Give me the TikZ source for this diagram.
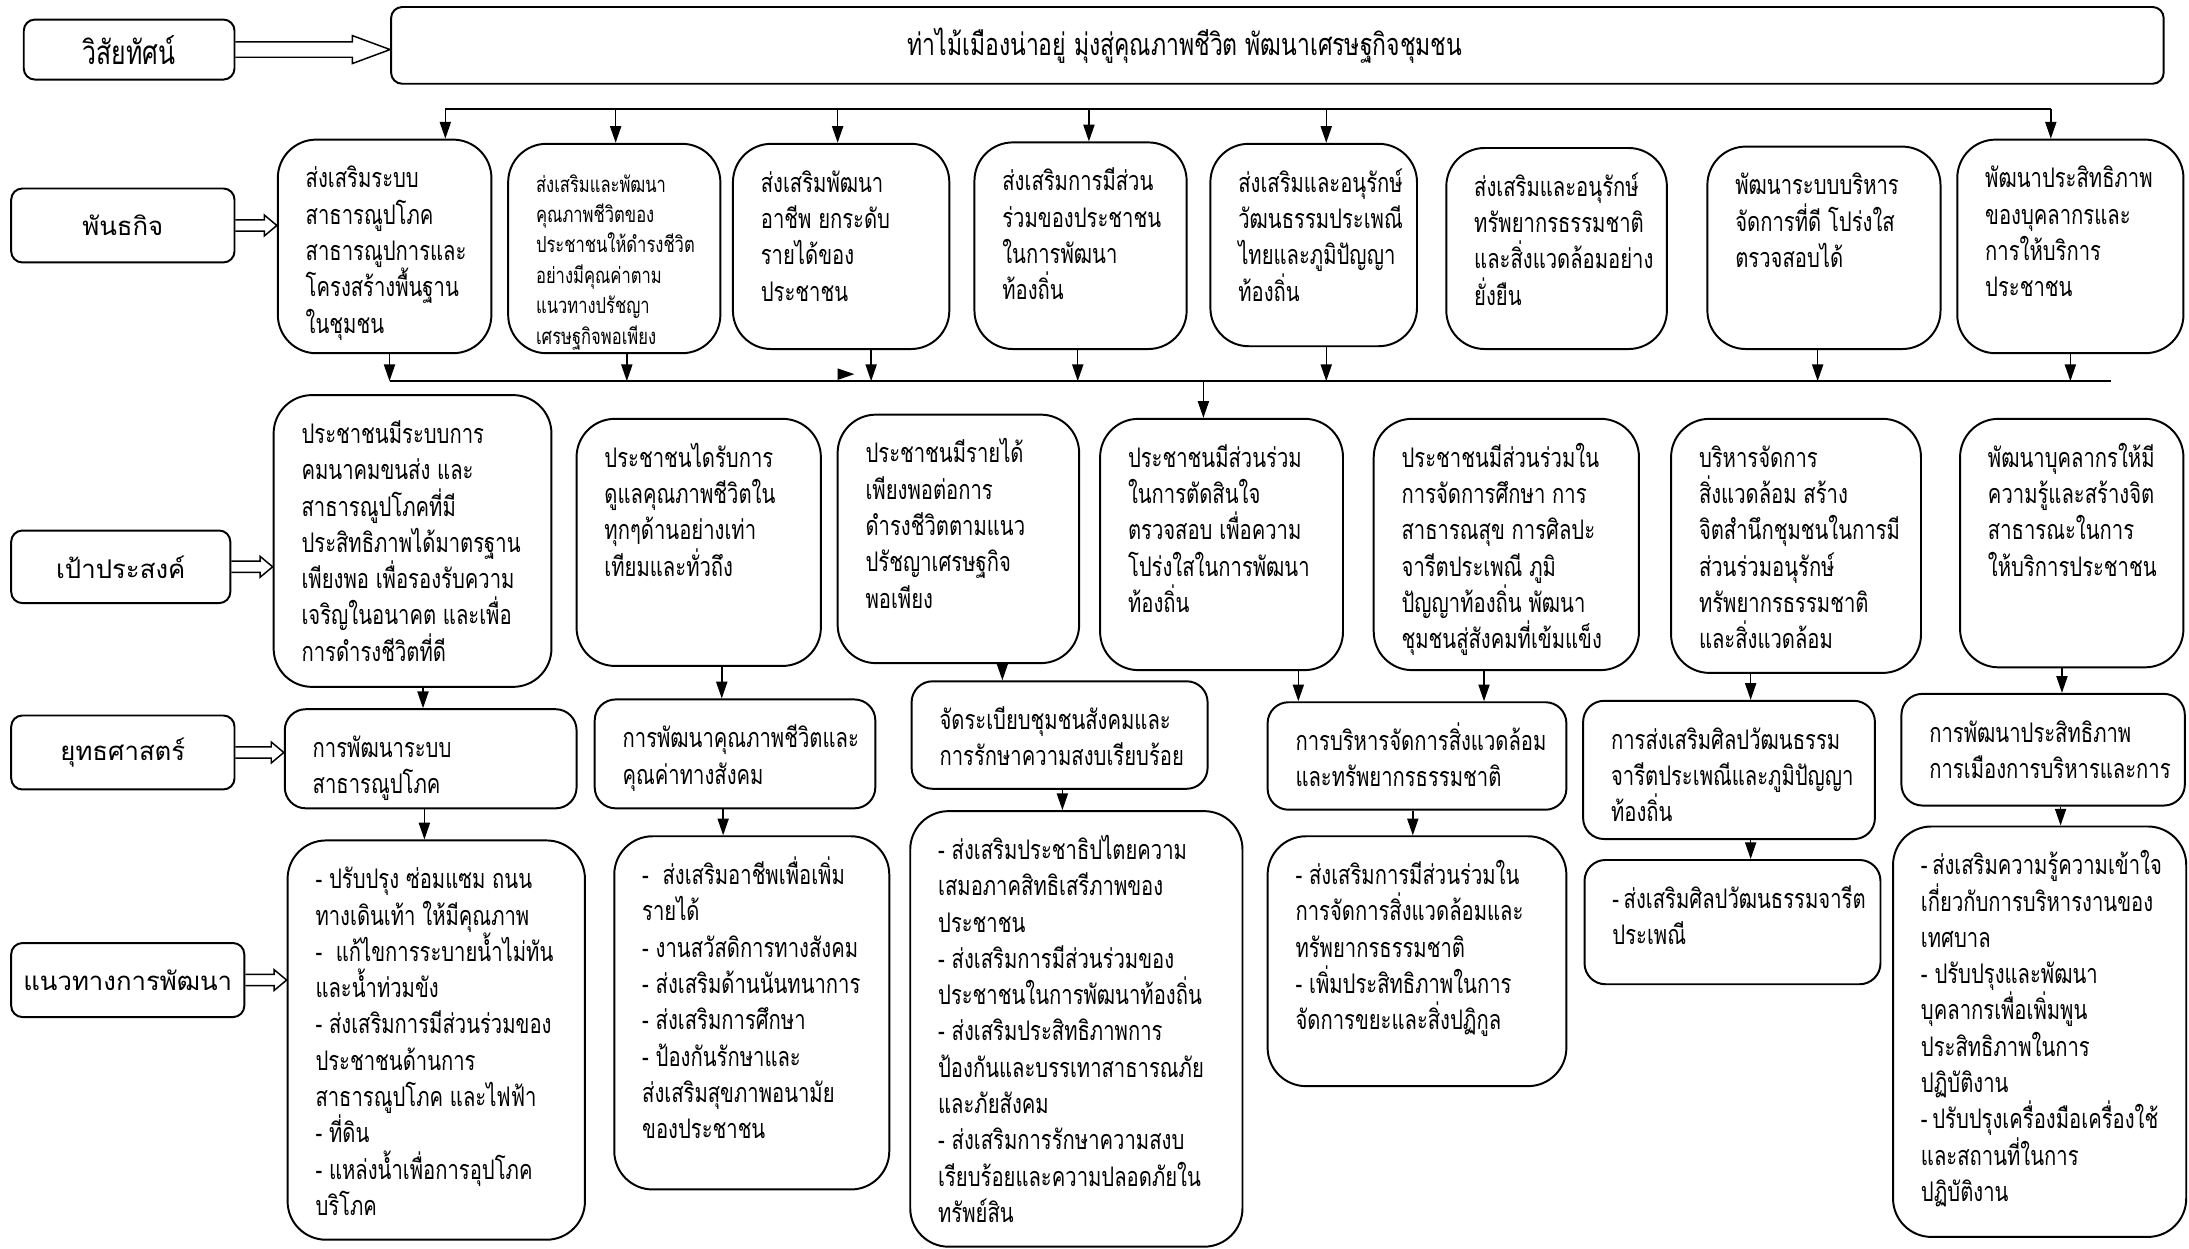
\documentclass[tikz,border=0pt]{standalone}
\usepackage{fontspec}
\newfontfamily\thaifont[Script=Thai]{Loma}
\newfontfamily\thainarrow[Script=Thai,FakeStretch=0.75]{Loma}
\usepackage{tikz}
\usetikzlibrary{arrows.meta,calc}

\newlength{\bu}\setlength{\bu}{0.02cm}
% text block of a box: width, height (in picture units), lines
\newcommand{\tb}[3]{\parbox[c][\dimexpr #2\bu-0.4cm\relax][t]{\dimexpr #1\bu-0.8cm\relax}{\raggedright\exhyphenpenalty=10000 \hyphenpenalty=10000 \rule{0pt}{14pt}#3}}
% hollow double arrow: from, to, shaft half, head half, head length
\newcommand{\dblarrow}[5]{%
  \draw[dbl] ($(#1.east)+(0,-#3)$) -- ($(#2.west |- #1.east)+(-#5,-#3)$)
    -- ($(#2.west |- #1.east)+(-#5,-#4)$) -- (#2.west |- #1.east)
    -- ($(#2.west |- #1.east)+(-#5,#4)$) -- ($(#2.west |- #1.east)+(-#5,#3)$)
    -- ($(#1.east)+(0,#3)$);}

\begin{document}
\begin{tikzpicture}[x=0.02cm, y=-0.02cm]
  % Define styles
  \tikzstyle{side} = [rectangle, draw, thick, rounded corners=0.16cm, font=\thaifont\fontsize{10.5}{13}\selectfont]
  \tikzstyle{tall} = [rectangle, draw, thick, rounded corners=0.55cm, inner xsep=0.4cm, inner ysep=0.2cm, font=\thainarrow\fontsize{11}{14.8}\selectfont]
  \tikzstyle{flat} = [tall, rounded corners=0.3cm]
  \tikzstyle{arr} = [line width=0.6pt, -{Triangle[length=0.24cm, width=0.16cm]}]
  \tikzstyle{bus} = [line width=1.1pt]
  \tikzstyle{dbl} = [line width=0.6pt, line join=miter]

  \useasboundingbox (0,0) rectangle (1568,894);

  % Row labels
  \node [side, minimum width=3.02cm, minimum height=0.86cm, font=\thainarrow\fontsize{13.5}{16}\selectfont] (lv) at (92.5,35.5) {วิสัยทัศน์};
  \node [side, minimum width=3.2cm, minimum height=1.06cm] (lm) at (88,161.5) {พันธกิจ};
  \node [side, minimum width=3.14cm, minimum height=1.04cm] (lg) at (86.5,406) {เป้าประสงค์};
  \node [side, minimum width=3.2cm, minimum height=1.06cm] (ls) at (88,539) {ยุทธศาสตร์};
  \node [side, minimum width=3.34cm, minimum height=1.06cm] (ld) at (91.5,702) {แนวทางการพัฒนา};

  % Vision
  \node [side, minimum width=25.4cm, minimum height=1.1cm, font=\thainarrow\fontsize{12.5}{16}\selectfont] (vision) at (915,32.5)
    {\makebox[24.6cm][l]{\hspace*{7.0cm}ท่าไม้เมืองน่าอยู่ มุ่งสู่คุณภาพชีวิต พัฒนาเศรษฐกิจชุมชน}};

  % Missions
  \node [tall] (m1) at (275.5,176.5) {\tb{153}{153}{ส่งเสริมระบบ\\สาธารณูปโภค\\สาธารณูปการและ\\โครงสร้างพื้นฐาน\\ในชุมชน}};
  \node [tall, font=\thainarrow\fontsize{9}{12.4}\selectfont] (m2) at (440,178) {\tb{152}{150}{ส่งเสริมและพัฒนา\\คุณภาพชีวิตของ\\ประชาชนให้ดำรงชีวิต\\อย่างมีคุณค่าตาม\\แนวทางปรัชญา\\เศรษฐกิจพอเพียง}};
  \node [tall] (m3) at (602.5,176.5) {\tb{155}{147}{ส่งเสริมพัฒนา\\อาชีพ~ยกระดับ\\รายได้ของ\\ประชาชน}};
  \node [tall] (m4) at (774,176) {\tb{152}{148}{ส่งเสริมการมีส่วน\\ร่วมของประชาชน\\ในการพัฒนา\\ท้องถิ่น}};
  \node [tall] (m5) at (941,175.5) {\tb{148}{145}{ส่งเสริมและอนุรักษ์\\วัฒนธรรมประเพณี\\ไทยและภูมิปัญญา\\ท้องถิ่น}};
  \node [tall] (m6) at (1115,178) {\tb{158}{144}{ส่งเสริมและอนุรักษ์\\ทรัพยากรธรรมชาติ\\และสิ่งแวดล้อมอย่าง\\ยั่งยืน}};
  \node [tall] (m7) at (1306.5,177.5) {\tb{167}{145}{พัฒนาระบบบริหาร\\จัดการที่ดี~โปร่งใส\\ตรวจสอบได้}};
  \node [tall] (m8) at (1483,176.5) {\tb{162}{153}{พัฒนาประสิทธิภาพ\\ของบุคลากรและ\\การให้บริการ\\ประชาชน}};

  % Goals
  \node [tall] (g1) at (295.5,387.5) {\tb{199}{209}{ประชาชนมีระบบการ\\คมนาคมขนส่ง~และ\\สาธารณูปโภคที่มี\\ประสิทธิภาพได้มาตรฐาน\\เพียงพอ~เพื่อรองรับความ\\เจริญในอนาคต~และเพื่อ\\การดำรงชีวิตที่ดี}};
  \node [tall] (g2) at (500.5,388.5) {\tb{175}{177}{ประชาชนไดรับการ\\ดูแลคุณภาพชีวิตใน\\ทุกๆด้านอย่างเท่า\\เทียมและทั่วถึง}};
  \node [tall] (g3) at (686.5,386) {\tb{173}{178}{ประชาชนมีรายได้\\เพียงพอต่อการ\\ดำรงชีวิตตามแนว\\ปรัชญาเศรษฐกิจ\\พอเพียง}};
  \node [tall] (g4) at (875,390) {\tb{174}{180}{ประชาชนมีส่วนร่วม\\ในการตัดสินใจ\\ตรวจสอบ~เพื่อความ\\โปร่งใสในการพัฒนา\\ท้องถิ่น}};
  \node [tall] (g5) at (1079,390) {\tb{190}{180}{ประชาชนมีส่วนร่วมใน\\การจัดการศึกษา~การ\\สาธารณสุข~การศิลปะ\\จารีตประเพณี~ภูมิ\\ปัญญาท้องถิ่น~พัฒนา\\ชุมชนสู่สังคมที่เข้มแข็ง}};
  \node [tall] (g6) at (1286.5,391) {\tb{179}{182}{บริหารจัดการ\\สิ่งแวดล้อม~สร้าง\\จิตสำนึกชุมชนในการมี\\ส่วนร่วมอนุรักษ์\\ทรัพยากรธรรมชาติ\\และสิ่งแวดล้อม}};
  \node [tall] (g7) at (1484,389) {\tb{160}{178}{พัฒนาบุคลากรให้มี\\ความรู้และสร้างจิต\\สาธารณะในการ\\ให้บริการประชาชน}};

  % Strategies
  \node [flat] (s1) at (308.5,543.5) {\tb{209}{71}{การพัฒนาระบบ\\สาธารณูปโภค}};
  \node [flat] (s2) at (526.5,540) {\tb{201}{78}{การพัฒนาคุณภาพชีวิตและ\\คุณค่าทางสังคม}};
  \node [flat] (s3) at (759,526.5) {\tb{212}{77}{จัดระเบียบชุมชนสังคมและ\\การรักษาความสงบเรียบร้อย}};
  \node [flat] (s4) at (1015,541.5) {\tb{214}{77}{การบริหารจัดการสิ่งแวดล้อม\\และทรัพยากรธรรมชาติ}};
  \node [flat] (s5) at (1238.5,551.5) {\tb{209}{99}{การส่งเสริมศิลปวัฒนธรรม\\จารีตประเพณีและภูมิปัญญา\\ท้องถิ่น}};
  \node [flat] (s6) at (1463.5,537) {\tb{203}{80}{การพัฒนาประสิทธิภาพ\\การเมืองการบริหารและการ}};

  % Development guidelines
  \node [tall] (d1) at (312.5,745) {\tb{213}{286}{-~ปรับปรุง~ซ่อมแซม~ถนน\\ทางเดินเท้า~ให้มีคุณภาพ\\-~~แก้ไขการระบายน้ำไม่ทัน\\และน้ำท่วมขัง\\-~ส่งเสริมการมีส่วนร่วมของ\\ประชาชนด้านการ\\สาธารณูปโภค~และไฟฟ้า\\-~ที่ดิน\\-~แหล่งน้ำเพื่อการอุปโภค\\บริโภค}};
  \node [tall] (d2) at (538.5,725.5) {\tb{197}{253}{-~~ส่งเสริมอาชีพเพื่อเพิ่ม\\รายได้\\-~งานสวัสดิการทางสังคม\\-~ส่งเสริมด้านนันทนาการ\\-~ส่งเสริมการศึกษา\\-~ป้องกันรักษาและ\\ส่งเสริมสุขภาพอนามัย\\ของประชาชน}};
  \node [tall] (d3) at (771,737) {\tb{238}{312}{-~ส่งเสริมประชาธิปไตยความ\\เสมอภาคสิทธิเสรีภาพของ\\ประชาชน\\-~ส่งเสริมการมีส่วนร่วมของ\\ประชาชนในการพัฒนาท้องถิ่น\\-~ส่งเสริมประสิทธิภาพการ\\ป้องกันและบรรเทาสาธารณภัย\\และภัยสังคม\\-~ส่งเสริมการรักษาความสงบ\\เรียบร้อยและความปลอดภัยใน\\ทรัพย์สิน}};
  \node [tall] (d4) at (1015,688.5) {\tb{214}{179}{-~ส่งเสริมการมีส่วนร่วมใน\\การจัดการสิ่งแวดล้อมและ\\ทรัพยากรธรรมชาติ\\-~เพิ่มประสิทธิภาพในการ\\จัดการขยะและสิ่งปฏิกูล}};
  \node [flat] (d5) at (1241,660.5) {\tb{212}{89}{-~ส่งเสริมศิลปวัฒนธรรมจารีต\\ประเพณี}};
  \node [tall] (d6) at (1461,739) {\tb{210}{294}{-~ส่งเสริมความรู้ความเข้าใจ\\เกี่ยวกับการบริหารงานของ\\เทศบาล\\-~ปรับปรุงและพัฒนา\\บุคลากรเพื่อเพิ่มพูน\\ประสิทธิภาพในการ\\ปฏิบัติงาน\\-~ปรับปรุงเครื่องมือเครื่องใช้\\และสถานที่ในการ\\ปฏิบัติงาน}};

  % Hollow arrows from the labels
  \dblarrow{lv}{vision}{5.5}{10}{27}
  \dblarrow{lm}{m1}{4}{7.5}{9}
  \dblarrow{lg}{g1}{4}{7.5}{9}
  \dblarrow{ls}{s1}{4}{7.5}{9}
  \dblarrow{ld}{d1}{4}{7.5}{9}

  % Bus under the vision
  \coordinate (t1) at (319,78);
  \coordinate (t2) at (441,78);
  \coordinate (t3) at (600,78);
  \coordinate (t4) at (780,78);
  \coordinate (t5) at (950,78);
  \coordinate (t8) at (1469,78);
  \draw [bus] (t1) -- (t8);
  \foreach \t/\m in {t1/m1, t2/m2, t3/m3, t4/m4, t5/m5, t8/m8}
    \draw [arr] (\t) -- (\t |- \m.north);

  % Bus under the missions
  \coordinate (b1) at (279,273);
  \coordinate (b2) at (449,273);
  \coordinate (b3) at (624,273);
  \coordinate (b4) at (772,273);
  \coordinate (b5) at (950,273);
  \coordinate (b7) at (1302,273);
  \coordinate (b8) at (1483,273);
  \coordinate (bend) at (1512,273);
  \coordinate (bg) at (862,273);
  \coordinate (stray) at (600,268);
  \draw [bus] (b1) -- (bend);
  \foreach \b/\m in {b1/m1, b2/m2, b3/m3, b4/m4, b5/m5, b7/m7, b8/m8}
    \draw [arr] (\m.south -| \b) -- (\b);
  \draw [arr] (stray) -- ++(12,0);
  \draw [arr] (bg) -- (bg |- g4.north);

  % Goals to strategies
  \foreach \x/\g/\s in {303/g1/s1, 517/g2/s2, 718/g3/s3, 930/g4/s4, 1063/g5/s4, 1254/g6/s5, 1477/g7/s6}
    \draw [arr] (\g.south -| \x,0) -- (\x,0 |- \s.north);

  % Strategies to guidelines
  \foreach \x/\s/\d in {304/s1/d1, 518/s2/d2, 761/s3/d3, 1012/s4/d4, 1254/s5/d5, 1476/s6/d6}
    \draw [arr] (\s.south -| \x,0) -- (\x,0 |- \d.north);

\end{tikzpicture}
\end{document}
